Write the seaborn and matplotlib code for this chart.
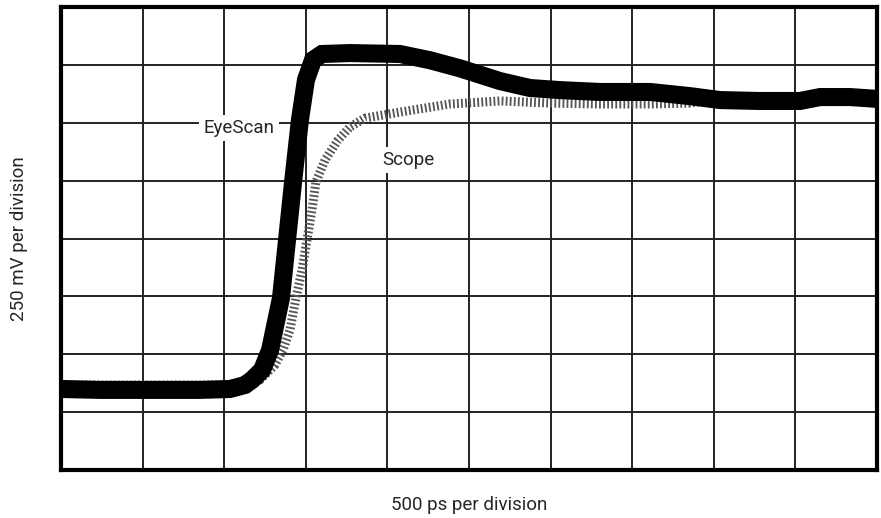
# Step response: EyeScan vs. scope, drawn on a 10 x 8 division graticule
import matplotlib
matplotlib.use('Agg')
import matplotlib.pyplot as plt
import seaborn as sns

# time axis in ps (500 ps per division), voltage in mV (250 mV per division)
eyescan_ps = [0, 239, 545, 852, 1036, 1127, 1170, 1232, 1281, 1348, 1385, 1422,
              1464, 1501, 1544, 1599, 1771, 2077, 2261, 2445, 2690, 2874, 3058,
              3303, 3609, 3854, 4038, 4283, 4528, 4651, 4835, 5000]
eyescan_mv = [350, 346, 346, 346, 350, 367, 389, 432, 518, 743, 994, 1244,
              1512, 1685, 1771, 1797, 1801, 1797, 1770, 1735, 1680, 1650, 1641,
              1633, 1633, 1615, 1598, 1594, 1594, 1611, 1611, 1603]

scope_ps = [0, 545, 1036, 1219, 1311, 1360, 1403, 1440, 1477, 1507, 1538, 1562,
            1618, 1697, 1771, 1863, 2077, 2383, 2690, 2996, 3303, 3609, 3854,
            4000, 5000]
scope_mv = [367, 367, 367, 389, 454, 518, 605, 743, 864, 994, 1123, 1244,
            1339, 1425, 1482, 1520, 1546, 1581, 1594, 1585, 1581, 1581, 1585,
            1598, 1603]

x_ticks = list(range(0, 5001, 500))
y_ticks = list(range(0, 2001, 250))

sns.set_style('white')
plt.rcParams['font.family'] = ['Roboto', 'DejaVu Sans']

fig = plt.figure(figsize=(8.81, 5.18), dpi=100)
ax = fig.add_axes([61 / 881, 48 / 518, 816 / 881, 463 / 518])

# graticule
for xv in x_ticks[1:-1]:
    ax.axvline(xv, color='#222222', lw=1.4, zorder=1)
for yv in y_ticks[1:-1]:
    ax.axhline(yv, color='#222222', lw=1.4, zorder=1)

# scope trace: hatched grey band
sns.lineplot(x=scope_ps, y=scope_mv, sort=False, color='#555555', lw=6.5,
             linestyle=(0, (0.2, 0.25)), ax=ax, zorder=2)
# eyescan trace: thick black band
sns.lineplot(x=eyescan_ps, y=eyescan_mv, sort=False, color='black', lw=13,
             solid_joinstyle='miter', ax=ax, zorder=3)

ax.text(1090, 1477, 'EyeScan', ha='center', va='center', fontsize=13.5,
        bbox=dict(facecolor='white', edgecolor='none', pad=3), zorder=4)
ax.text(2126, 1339, 'Scope', ha='center', va='center', fontsize=13.5,
        bbox=dict(facecolor='white', edgecolor='none', pad=3), zorder=4)

ax.set_xlim(0, 5000)
ax.set_ylim(0, 2000)
ax.set_xticks([])
ax.set_yticks([])
for side in ax.spines.values():
    side.set_visible(True)
    side.set_color('black')
    side.set_linewidth(3)

ax.set_xlabel('500 ps per division', fontsize=13.5, labelpad=19)
ax.set_ylabel('250 mV per division', fontsize=13.5, labelpad=24)

fig.savefig('out.png', dpi=100)
